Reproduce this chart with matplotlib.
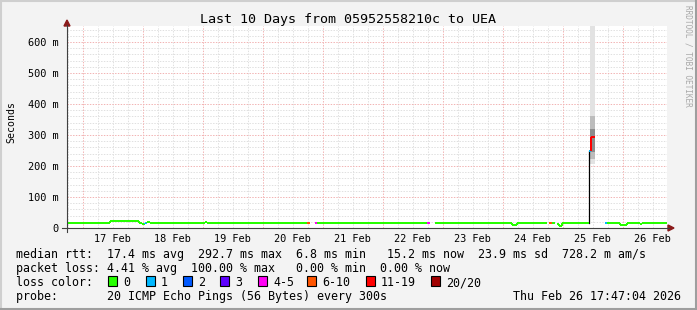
import matplotlib
matplotlib.use('Agg')
import matplotlib.pyplot as plt
from matplotlib.lines import Line2D
from matplotlib.patches import Rectangle, Polygon
import numpy as np

W, H = 697, 310
MONO = 'DejaVu Sans Mono'

# median rtt, step segments. times are hours since 17 Feb 00:00
seg_edges = [-6.2, 11.0, 22.6, 23.8, 25.0, 25.8, 27.0, 49.0, 49.8, 89.8, 91.0,
             92.8, 93.8, 137.8, 139.0, 141.0, 171.8, 173.8, 185.8, 186.6, 187.8,
             189.0, 189.8, 190.6, 191.8, 202.6, 203.4, 205.0, 209.0, 209.8,
             215.0, 217.8, 223.0, 223.8, 233.8]
seg_rtt = [16, 22.3, 16, 13, 15, 19, 16, 19, 16, 16, np.nan,
           16, 16, 16, np.nan, 16, 11, 16, np.nan, 16, 16,
           np.nan, 14, 8, 16, 249, 295, np.nan, 16, 16,
           9, 16, 13, 16]
seg_loss = ['0', '0', '0', '0', '1', '0', '0', '0', '0', '6-10', '',
            '4-5', '0', '4-5', '', '0', '0', '0', '', '6-10', '0',
            '', '0', '0', '0', '1', '11-19', '', '1', '0',
            '0', '0', '0', '0']

# smoke around the spike on 25 Feb
smoke_t = [203.1, 205.0]
smoke_lo = [205, 222, 245]
smoke_hi = [700, 360, 320]
smoke_col = ['#e2e2e2', '#bcbcbc', '#8c8c8c']

loss_labels = ['0', '1', '2', '3', '4-5', '6-10', '11-19', '20/20']
loss_colors = ['#26ff00', '#00b8ff', '#0059ff', '#5e00ff', '#ff00f4',
               '#ff5500', '#ff0000', '#a00000']
loss_box_x = [108, 146, 183, 220, 258, 307, 366, 431]

day_labels = ['17 Feb', '18 Feb', '19 Feb', '20 Feb', '21 Feb',
              '22 Feb', '23 Feb', '24 Feb', '25 Feb', '26 Feb']
y_ticks = [0, 100, 200, 300, 400, 500, 600]
y_labels = ['0', '100 m', '200 m', '300 m', '400 m', '500 m', '600 m']

t_start, t_end = -6.215, 233.785


def fx(x):
    return x / W


def fy(y):
    return 1 - y / H


fig = plt.figure(figsize=(W / 100, H / 100), dpi=100, facecolor='#f3f3f3')
ax = fig.add_axes([fx(67), fy(228), 600 / W, 202 / H])
ax.set_facecolor('white')
ax.set_xlim(t_start, t_end)
ax.set_ylim(0, 651.6)
for s in ax.spines.values():
    s.set_visible(False)

# grid: gray every 6 h / 20 m, pink every day / 100 m
for h in np.arange(-6, 234, 6):
    major = (h % 24 == 0)
    ax.axvline(h, color='#f2b4b4' if major else '#e0e0e0', lw=0.72,
               dashes=(1.4, 1.4), zorder=0 if major else -1)
for v in np.arange(20, 651, 20):
    major = (v % 100 == 0)
    ax.axhline(v, color='#f2b4b4' if major else '#e0e0e0', lw=0.72,
               dashes=(1.4, 1.4), zorder=0 if major else -1)

# smoke
for lo, hi, c in zip(smoke_lo, smoke_hi, smoke_col):
    ax.fill_between(smoke_t, [lo, lo], [hi, hi], color=c, lw=0, zorder=1)

# median line
cmap = dict(zip(loss_labels, loss_colors))
prev = np.nan
for i, v in enumerate(seg_rtt):
    t0, t1 = seg_edges[i], seg_edges[i + 1]
    if np.isnan(v):
        prev = np.nan
        continue
    c = cmap[seg_loss[i]]
    if not np.isnan(prev):
        if abs(v - prev) > 50:
            ax.plot([t0, t0], [prev, v], color='black', lw=0.9, zorder=2)
        else:
            ax.plot([t0, t0], [prev, v], color=c, lw=1.44, zorder=3,
                    solid_capstyle='butt')
    ax.plot([t0, t1], [v, v], color=c, lw=1.44, zorder=3, solid_capstyle='butt')
    prev = v

ax.set_yticks(y_ticks)
ax.set_yticklabels(y_labels, family=MONO, fontsize=7.4)
ax.set_xticks([12 + 24 * k for k in range(len(day_labels))])
ax.set_xticklabels(day_labels, family=MONO, fontsize=7.4)
ax.tick_params(length=0, pad=4)
ax.tick_params(axis='y', pad=6)

# axes with arrows
fig.add_artist(Line2D([fx(67), fx(67)], [fy(232), fy(25)], color='#404040', lw=0.8))
fig.add_artist(Line2D([fx(62), fx(669)], [fy(228), fy(228)], color='#404040', lw=0.8))
fig.add_artist(Polygon([(fx(64), fy(26)), (fx(70), fy(26)), (fx(67), fy(20))],
                       closed=True, color='#8b1a1a'))
fig.add_artist(Polygon([(fx(668), fy(225)), (fx(668), fy(231)), (fx(674), fy(228))],
                       closed=True, color='#8b1a1a'))

# frame
fig.add_artist(Line2D([0, 1], [fy(1), fy(1)], color='#cfcfcf', lw=1.5))
fig.add_artist(Line2D([fx(1), fx(1)], [0, 1], color='#cfcfcf', lw=1.5))
fig.add_artist(Line2D([0, 1], [fy(309), fy(309)], color='#9e9e9e', lw=1.5))
fig.add_artist(Line2D([fx(696), fx(696)], [0, 1], color='#9e9e9e', lw=1.5))

# texts
fig.text(fx(348), fy(23), 'Last 10 Days from 05952558210c to UEA', family=MONO,
         fontsize=9.6, ha='center', va='baseline')
fig.text(fx(11), fy(122), 'Seconds', family=MONO, fontsize=7.1, rotation=90,
         ha='center', va='center')
fig.text(fx(688), fy(5), 'RRDTOOL / TOBI OETIKER', family=MONO, fontsize=5.6,
         rotation=-90, ha='center', va='top', color='#a8a8a8')

fs = 8.37
fig.text(fx(16), fy(258), 'median rtt:  17.4 ms avg  292.7 ms max  6.8 ms min   '
         '15.2 ms now  23.9 ms sd  728.2 m am/s', family=MONO, fontsize=fs, va='baseline')
fig.text(fx(16), fy(272), 'packet loss: 4.41 % avg  100.00 % max   0.00 % min  '
         '0.00 % now', family=MONO, fontsize=fs, va='baseline')
fig.text(fx(16), fy(286), 'loss color:', family=MONO, fontsize=fs, va='baseline')
for lab, col, bx in zip(loss_labels, loss_colors, loss_box_x):
    fig.add_artist(Rectangle((fx(bx), fy(286)), 9 / W, 10 / H, facecolor=col,
                             edgecolor='black', lw=0.8))
    fig.text(fx(bx + 15), fy(286), lab, family=MONO, fontsize=fs, va='baseline')
fig.text(fx(16), fy(300), 'probe:       20 ICMP Echo Pings (56 Bytes) every 300s',
         family=MONO, fontsize=fs, va='baseline')
fig.text(fx(681), fy(300), 'Thu Feb 26 17:47:04 2026', family=MONO, fontsize=fs,
         va='baseline', ha='right')

fig.savefig('out.png', dpi=100, facecolor=fig.get_facecolor())
